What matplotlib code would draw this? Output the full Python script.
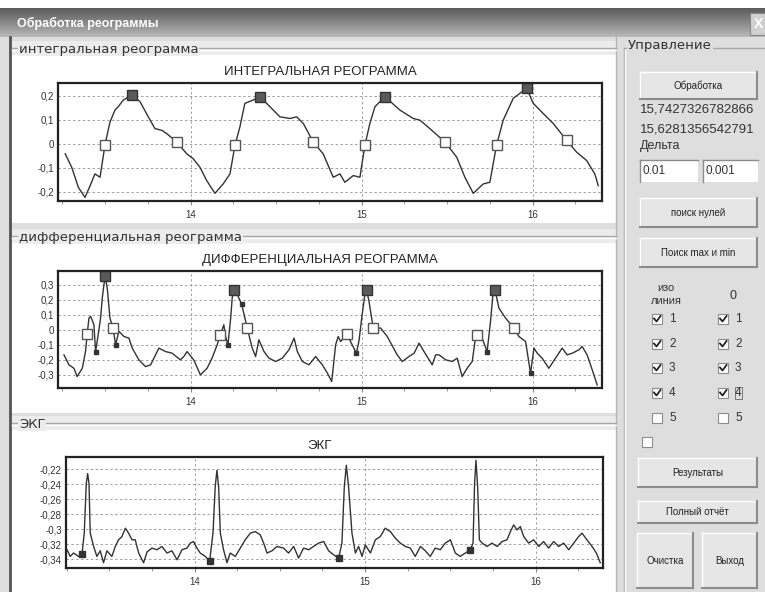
"""Rheogram processing window: integral / differential rheogram and ECG."""

import matplotlib.pyplot as plt
import numpy as np
from matplotlib.patches import Rectangle
from matplotlib.ticker import FixedLocator, MultipleLocator

plt.rcParams["font.family"] = ["Liberation Sans", "DejaVu Sans"]

# --- integral rheogram ---
int_t = [13.266, 13.304, 13.343, 13.382, 13.412, 13.44, 13.47, 13.499, 13.528, 13.557,
         13.576, 13.606, 13.655, 13.704, 13.752, 13.791, 13.83, 13.86, 13.918, 13.977,
         14.015, 14.054, 14.094, 14.142, 14.19, 14.23, 14.259, 14.288, 14.317, 14.366,
         14.405, 14.464, 14.522, 14.581, 14.62, 14.659, 14.717, 14.775, 14.834, 14.873,
         14.902, 14.951, 14.99, 15.019, 15.048, 15.078, 15.136, 15.224, 15.302, 15.341,
         15.399, 15.487, 15.556, 15.604, 15.653, 15.711, 15.75, 15.789, 15.828, 15.887,
         15.965, 16.004, 16.062, 16.121, 16.199, 16.257, 16.316, 16.364, 16.384]
int_v = [-0.042, -0.098, -0.182, -0.224, -0.175, -0.126, -0.14, -0.004, 0.09, 0.14,
         0.154, 0.182, 0.203, 0.175, 0.112, 0.063, 0.056, 0.042, 0.007, -0.042,
         -0.063, -0.098, -0.154, -0.207, -0.168, -0.126, -0.007, 0.07, 0.168, 0.182,
         0.196, 0.154, 0.112, 0.105, 0.112, 0.084, 0.007, -0.042, -0.14, -0.126,
         -0.161, -0.133, -0.14, -0.007, 0.084, 0.154, 0.196, 0.14, 0.105, 0.098,
         0.063, 0.007, -0.056, -0.14, -0.207, -0.168, -0.161, -0.007, 0.098, 0.189,
         0.231, 0.168, 0.126, 0.084, 0.014, -0.035, -0.07, -0.126, -0.175]
int_max_t = [13.655, 14.405, 15.136, 15.965]
int_max_v = [0.203, 0.196, 0.196, 0.231]
int_zero_t = [13.499, 13.918, 14.259, 14.717, 15.019, 15.487, 15.789, 16.199]
int_zero_v = [-0.004, 0.007, -0.007, 0.007, -0.007, 0.007, -0.007, 0.014]
int_yticks = [-0.2, -0.1, 0, 0.1, 0.2]
int_ylabels = ["-0,2", "-0,1", "0", "0,1", "0,2"]

# --- differential rheogram ---
diff_t = [13.259, 13.288, 13.317, 13.336, 13.366, 13.385, 13.395, 13.405, 13.415, 13.434,
          13.444, 13.459, 13.473, 13.483, 13.499, 13.512, 13.528, 13.546, 13.561, 13.58,
          13.61, 13.639, 13.658, 13.697, 13.736, 13.766, 13.814, 13.853, 13.892, 13.94,
          13.96, 13.979, 14.018, 14.057, 14.096, 14.125, 14.155, 14.174, 14.194, 14.204,
          14.218, 14.234, 14.243, 14.253, 14.273, 14.298, 14.331, 14.36, 14.38, 14.399,
          14.429, 14.458, 14.497, 14.536, 14.575, 14.605, 14.624, 14.653, 14.692, 14.731,
          14.77, 14.8, 14.825, 14.848, 14.863, 14.877, 14.916, 14.935, 14.969, 14.984,
          15.003, 15.019, 15.029, 15.043, 15.068, 15.111, 15.15, 15.208, 15.238, 15.277,
          15.307, 15.336, 15.365, 15.413, 15.433, 15.453, 15.492, 15.53, 15.559, 15.588,
          15.617, 15.647, 15.667, 15.676, 15.705, 15.734, 15.754, 15.768, 15.78, 15.803,
          15.842, 15.891, 15.92, 15.959, 15.988, 16.008, 16.027, 16.056, 16.095, 16.134,
          16.173, 16.202, 16.232, 16.271, 16.29, 16.319, 16.349, 16.378]
diff_v = [-0.167, -0.233, -0.256, -0.311, -0.256, -0.145, -0.027, 0.077, 0.089, 0.033,
          -0.145, -0.033, 0.077, 0.211, 0.355, 0.277, 0.077, 0.011, -0.1, -0.011,
          -0.045, -0.056, -0.122, -0.2, -0.245, -0.233, -0.122, -0.145, -0.156, -0.2,
          -0.178, -0.145, -0.2, -0.3, -0.256, -0.189, -0.1, -0.033, 0.033, -0.045,
          -0.1, 0.077, 0.211, 0.267, 0.233, 0.171, 0.011, -0.122, -0.178, -0.067,
          -0.145, -0.189, -0.211, -0.189, -0.133, -0.056, -0.145, -0.211, -0.233, -0.178,
          -0.233, -0.289, -0.344, -0.1, -0.045, -0.078, -0.029, -0.078, -0.156, -0.078,
          0.1, 0.233, 0.267, 0.189, 0.011, 0.011, -0.045, -0.167, -0.211, -0.178,
          -0.156, -0.089, -0.145, -0.233, -0.167, -0.167, -0.2, -0.211, -0.189, -0.311,
          -0.256, -0.211, -0.045, -0.033, -0.056, -0.145, 0.055, 0.233, 0.267, 0.144,
          0.077, 0.011, -0.045, -0.078, -0.289, -0.122, -0.156, -0.189, -0.256, -0.189,
          -0.122, -0.167, -0.156, -0.133, -0.111, -0.167, -0.267, -0.367]
diff_max_t = [13.499, 14.253, 15.029, 15.78]
diff_max_v = [0.355, 0.267, 0.267, 0.267]
diff_zero_t = [13.395, 13.546, 14.174, 14.331, 14.916, 15.068, 15.676, 15.891]
diff_zero_v = [-0.027, 0.011, -0.033, 0.011, -0.029, 0.011, -0.033, 0.011]
diff_min_t = [13.444, 13.561, 14.218, 14.298, 14.969, 15.734, 15.988]
diff_min_v = [-0.145, -0.1, -0.1, 0.171, -0.156, -0.145, -0.289]
diff_yticks = [-0.3, -0.2, -0.1, 0, 0.1, 0.2, 0.3]
diff_ylabels = ["-0,3", "-0,2", "-0,1", "0", "0,1", "0,2", "0,3"]

# --- ECG ---
ecg_t = [13.252, 13.271, 13.29, 13.32, 13.34, 13.353, 13.365, 13.373, 13.381, 13.388,
         13.408, 13.427, 13.447, 13.466, 13.486, 13.515, 13.535, 13.554, 13.574, 13.594,
         13.613, 13.633, 13.652, 13.672, 13.701, 13.721, 13.75, 13.779, 13.809, 13.838,
         13.867, 13.897, 13.926, 13.955, 13.975, 13.994, 14.014, 14.033, 14.063, 14.088,
         14.108, 14.121, 14.131, 14.141, 14.151, 14.17, 14.19, 14.209, 14.239, 14.268,
         14.297, 14.327, 14.356, 14.385, 14.405, 14.425, 14.454, 14.483, 14.522, 14.551,
         14.581, 14.61, 14.639, 14.669, 14.698, 14.727, 14.757, 14.786, 14.815, 14.845,
         14.864, 14.878, 14.89, 14.903, 14.923, 14.943, 14.962, 14.982, 15.001, 15.031,
         15.06, 15.089, 15.118, 15.148, 15.177, 15.206, 15.236, 15.265, 15.294, 15.324,
         15.353, 15.382, 15.411, 15.441, 15.47, 15.5, 15.529, 15.558, 15.588, 15.617,
         15.633, 15.642, 15.65, 15.66, 15.67, 15.686, 15.715, 15.744, 15.774, 15.803,
         15.832, 15.852, 15.871, 15.891, 15.91, 15.93, 15.959, 15.988, 16.018, 16.047,
         16.076, 16.106, 16.135, 16.164, 16.194, 16.223, 16.252, 16.272, 16.301, 16.331,
         16.356, 16.379]
ecg_v = [-0.3276, -0.3365, -0.332, -0.3365, -0.333, -0.3054, -0.239, -0.2257, -0.239, -0.3054,
         -0.3232, -0.3365, -0.329, -0.345, -0.329, -0.3365, -0.3232, -0.3143, -0.31, -0.2988,
         -0.3054, -0.3143, -0.3143, -0.332, -0.345, -0.3307, -0.3254, -0.3276, -0.3232, -0.332,
         -0.329, -0.341, -0.3276, -0.3254, -0.3187, -0.3166, -0.3254, -0.332, -0.3365, -0.3432,
         -0.3054, -0.2435, -0.2213, -0.2435, -0.3054, -0.3276, -0.345, -0.332, -0.3365, -0.3254,
         -0.3143, -0.3054, -0.3033, -0.3077, -0.3187, -0.332, -0.329, -0.3232, -0.3254, -0.332,
         -0.3232, -0.3387, -0.3254, -0.3276, -0.3232, -0.3187, -0.3166, -0.329, -0.3343, -0.3387,
         -0.3187, -0.2435, -0.2146, -0.2435, -0.3054, -0.332, -0.3232, -0.3365, -0.321, -0.332,
         -0.3143, -0.31, -0.2988, -0.3033, -0.312, -0.3187, -0.3232, -0.3254, -0.3365, -0.3232,
         -0.329, -0.3365, -0.3254, -0.3276, -0.3187, -0.3143, -0.332, -0.3365, -0.332, -0.3276,
         -0.3187, -0.239, -0.208, -0.2435, -0.3143, -0.3187, -0.3232, -0.3187, -0.3232, -0.3166,
         -0.3143, -0.3033, -0.2944, -0.301, -0.2966, -0.31, -0.3187, -0.3143, -0.3232, -0.3166,
         -0.3254, -0.3166, -0.3232, -0.3187, -0.3276, -0.3187, -0.31, -0.3054, -0.3143, -0.3232,
         -0.332, -0.345]
ecg_mark_t = [13.34, 14.088, 14.845, 15.617]
ecg_mark_v = [-0.333, -0.3432, -0.3387, -0.3276]
ecg_yticks = [-0.34, -0.32, -0.3, -0.28, -0.26, -0.24, -0.22]
ecg_ylabels = ["-0,34", "-0,32", "-0,3", "-0,28", "-0,26", "-0,24", "-0,22"]

x_ticks = [14, 15, 16]

W, H = 765, 592
BG = "#dedede"
LINE = "#333333"
TXT = "#333333"


def main() -> None:
    fig = plt.figure(figsize=(W / 100, H / 100), dpi=100)
    fig.patch.set_facecolor("white")

    # background "window" drawn in pixel coordinates
    bg = fig.add_axes([0, 0, 1, 1])
    bg.set_xlim(0, W)
    bg.set_ylim(H, 0)
    bg.axis("off")

    def rect(x0, y0, x1, y1, fc, ec="none", lw=0.0, z=1):
        bg.add_patch(Rectangle((x0, y0), x1 - x0, y1 - y0, facecolor=fc,
                               edgecolor=ec, linewidth=lw, zorder=z))

    def hline(x0, x1, y, c, lw=1.0):
        bg.plot([x0, x1], [y, y], color=c, lw=lw, zorder=3)

    def vline(x, y0, y1, c, lw=1.0):
        bg.plot([x, x], [y0, y1], color=c, lw=lw, zorder=3)

    def button(x0, y0, x1, y1, label, size=7):
        rect(x0, y0, x1, y1, "#e6e6e6", z=2)
        hline(x0, x1, y0, "white")
        vline(x0, y0, y1, "white")
        hline(x0, x1, y1, "#8c8c8c", 1.5)
        vline(x1, y0, y1, "#8c8c8c", 1.5)
        bg.text((x0 + x1) / 2, (y0 + y1) / 2, label, ha="center", va="center",
                fontsize=size, color="#222222", zorder=4)

    def checkbox(x, y, checked, label=None, focus=False):
        rect(x, y - 5, x + 10, y + 5, "white", "#8c8c8c", 0.8, z=3)
        if checked:
            bg.plot([x + 2, x + 4.5, x + 8.5], [y - 0.5, y + 2.5, y - 3],
                    color="#222222", lw=1.3, zorder=4)
        if label is not None:
            t = bg.text(x + 17, y, label, va="center", fontsize=8.5, color=TXT, zorder=4)
            if focus:
                t.set_bbox(dict(facecolor="none", edgecolor="#666666", lw=0.6, pad=0.3))

    # window body and title bar
    rect(0, 37, W, H, BG, z=0)
    grad = np.linspace(0, 1, 30).reshape(-1, 1)
    bg.imshow(grad, extent=[0, W, 37, 8], cmap="Greys_r", vmin=-0.9, vmax=2.2,
              aspect="auto", zorder=1)
    bg.text(17, 23, "Обработка реограммы", fontsize=9, fontweight="bold",
            color="white", va="center", zorder=4)
    rect(750, 13, 765, 35, "#d0d0d0", "#888888", 0.8, z=3)
    bg.text(759, 24, "X", fontsize=10, fontweight="bold", color="white",
            ha="center", va="center", zorder=4)

    # left panel: three group boxes
    vline(10, 37, H, "#555555", 2.0)
    rect(12, 55, 616, 223, "white", z=1)
    rect(12, 241, 616, 413, "white", z=1)
    rect(12, 430, 616, H, "white", z=1)
    vline(616, 37, H, "#b5b5b5")
    for y, label in [(48, "интегральная реограмма"), (236, "дифференциальная реограмма"),
                     (423, "ЭКГ")]:
        rect(12, y - 7, 616, y + 7, "#ececec", z=1)
        hline(12, 616, y, "#a8a8a8")
        hline(12, 616, y + 1.5, "white")
        bg.text(19, y + 1, label, fontsize=9.5, family="DejaVu Sans", color=TXT,
                va="center", zorder=4,
                bbox=dict(facecolor="#ececec", edgecolor="none", pad=0.5))

    # right panel: controls
    vline(624, 48, H, "#a8a8a8")
    vline(625.5, 48, H, "white")
    hline(624, W, 48, "#a8a8a8")
    bg.text(628, 46, "Управление", fontsize=9.5, family="DejaVu Sans", color=TXT,
            va="center", zorder=4, bbox=dict(facecolor=BG, edgecolor="none", pad=0.5))
    button(640, 72, 757, 99, "Обработка")
    bg.text(640, 110, "15,7427326782866", fontsize=9.5, color=TXT, va="center")
    bg.text(640, 129, "15,6281356542791", fontsize=9.5, color=TXT, va="center")
    bg.text(640, 146, "Дельта", fontsize=9, color=TXT, va="center")
    for x0, x1, val in [(640, 698, "0.01"), (703, 758, "0.001")]:
        rect(x0, 160, x1, 182, "white", z=2)
        hline(x0, x1, 160, "#8c8c8c")
        vline(x0, 160, 182, "#8c8c8c")
        bg.text(x0 + 3, 171, val, fontsize=8.5, color=TXT, va="center", zorder=4)
    button(640, 198, 757, 227, "поиск нулей")
    button(640, 238, 757, 267, "Поиск max и min")
    bg.text(666, 288, "изо", fontsize=8, color=TXT, ha="center", va="center")
    bg.text(666, 301, "линия", fontsize=8, color=TXT, ha="center", va="center")
    bg.text(733, 296, "0", fontsize=9, color=TXT, ha="center", va="center")
    for i, y in enumerate([319, 344, 368, 393, 418]):
        checked = i < 4
        checkbox(652, y, checked, str(i + 1))
        checkbox(718, y, checked, str(i + 1), focus=(i == 3))
    checkbox(642, 442, False)
    button(638, 458, 757, 487, "Результаты")
    button(638, 501, 757, 523, "Полный отчёт")
    button(637, 533, 693, 588, "Очистка")
    button(702, 533, 757, 588, "Выход")

    # chart axes (positions measured in pixels)
    def chart(left, top, right, bottom, xlim, ylim, ticks, labels, title):
        ax = fig.add_axes([left / W, 1 - bottom / H, (right - left) / W, (bottom - top) / H])
        ax.set_zorder(5)
        ax.set_xlim(*xlim)
        ax.set_ylim(*ylim)
        ax.xaxis.set_major_locator(FixedLocator(x_ticks))
        ax.xaxis.set_minor_locator(MultipleLocator(0.25))
        ax.set_xticklabels([str(t) for t in x_ticks])
        ax.yaxis.set_major_locator(FixedLocator(ticks))
        ax.set_yticklabels(labels)
        ax.grid(True, color="#a0a0a0", linestyle=(0, (2.5, 2.5)), lw=0.7)
        ax.tick_params(axis="y", length=0, pad=3, labelsize=7, labelcolor=TXT)
        ax.tick_params(axis="x", which="major", length=3, width=0.8, pad=3.5,
                       labelsize=7, labelcolor=TXT, color="#888888")
        ax.tick_params(axis="x", which="minor", length=2, width=0.6, color="#888888")
        for s in ax.spines.values():
            s.set_linewidth(1.6)
            s.set_color("#222222")
        fig.text(320 / W, 1 - (top - 11) / H, title, ha="center", va="center",
                 fontsize=9.5, color="#222222", zorder=6)
        return ax

    ax1 = chart(58, 83, 602, 201, (13.224, 16.406), (-0.239, 0.253),
                int_yticks, int_ylabels, "ИНТЕГРАЛЬНАЯ РЕОГРАММА")
    ax1.plot(int_t, int_v, color=LINE, lw=1.0)
    ax1.plot(int_zero_t, int_zero_v, "s", ms=7, mfc="white", mec="#555555", mew=1.0)
    ax1.plot(int_max_t, int_max_v, "s", ms=7, mfc="#5a5a5a", mec="#333333", mew=1.0)

    ax2 = chart(58, 271, 602, 388, (13.224, 16.406), (-0.387, 0.39),
                diff_yticks, diff_ylabels, "ДИФФЕРЕНЦИАЛЬНАЯ РЕОГРАММА")
    ax2.plot(diff_t, diff_v, color=LINE, lw=1.0)
    ax2.plot(diff_zero_t, diff_zero_v, "s", ms=7, mfc="white", mec="#555555", mew=1.0)
    ax2.plot(diff_min_t, diff_min_v, "s", ms=3.5, mfc="#333333", mec="#333333")
    ax2.plot(diff_max_t, diff_max_v, "s", ms=7, mfc="#5a5a5a", mec="#333333", mew=1.0)

    ax3 = chart(66, 457, 603, 568, (13.246, 16.395), (-0.352, -0.2036),
                ecg_yticks, ecg_ylabels, "ЭКГ")
    ax3.plot(ecg_t, ecg_v, color=LINE, lw=1.0)
    ax3.plot(ecg_mark_t, ecg_mark_v, "s", ms=4, mfc="#333333", mec="#333333")

    fig.savefig("out.png", dpi=100)


if __name__ == "__main__":
    main()
